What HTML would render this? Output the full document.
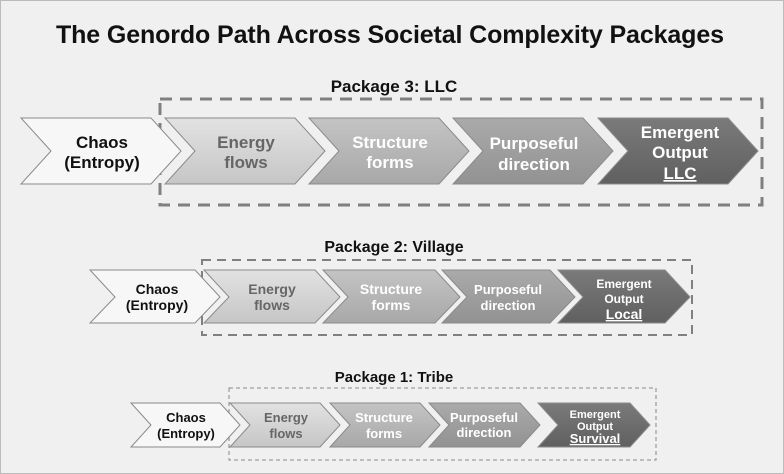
<!DOCTYPE html>
<html><head><style>
body{margin:0;background:#f0f0f0;}
svg{display:block;font-family:"Liberation Sans",sans-serif;font-weight:bold;}
</style></head><body>
<svg width="784" height="474" viewBox="0 0 784 474" xmlns="http://www.w3.org/2000/svg">
<defs>
<linearGradient id="g1" x1="0" y1="0" x2="0" y2="1"><stop offset="0" stop-color="#e2e2e2"/><stop offset="1" stop-color="#c6c6c6"/></linearGradient>
<linearGradient id="g2" x1="0" y1="0" x2="0" y2="1"><stop offset="0" stop-color="#c4c4c4"/><stop offset="1" stop-color="#a8a8a8"/></linearGradient>
<linearGradient id="g3" x1="0" y1="0" x2="0" y2="1"><stop offset="0" stop-color="#aaaaaa"/><stop offset="1" stop-color="#929292"/></linearGradient>
<linearGradient id="g4" x1="0" y1="0" x2="0" y2="1"><stop offset="0" stop-color="#7a7a7a"/><stop offset="1" stop-color="#606060"/></linearGradient>
</defs>
<rect x="0.5" y="0.5" width="783" height="473" fill="#f0f0f0" stroke="#bbb"/>
<text x="390" y="43" font-size="25" text-anchor="middle" textLength="668" fill="#111">The Genordo Path Across Societal Complexity Packages</text>

<!-- Row 3 -->
<text x="394" y="92" font-size="17" text-anchor="middle" fill="#111">Package 3: LLC</text>
<rect x="160" y="99" width="602" height="106" fill="none" stroke="#808080" stroke-width="3" stroke-dasharray="12,8"/>
<g stroke="#8a8a8a" stroke-width="1">
<polygon points="21,118 151,118 181,151 151,184 21,184 51,151" fill="#f7f7f7"/>
<polygon points="165,118 295,118 325,151 295,184 165,184 195,151" fill="url(#g1)"/>
<polygon points="309,118 439,118 469,151 439,184 309,184 339,151" fill="url(#g2)"/>
<polygon points="453,118 583,118 613,151 583,184 453,184 483,151" fill="url(#g3)"/>
<polygon points="598,118 728,118 758,151 728,184 598,184 628,151" fill="url(#g4)"/>
</g>
<g font-size="17" text-anchor="middle">
<text x="102" y="148" fill="#111">Chaos</text><text x="102" y="168" fill="#111">(Entropy)</text>
<text x="246" y="148" fill="#666">Energy</text><text x="246" y="168" fill="#666">flows</text>
<text x="390" y="148" fill="#fff">Structure</text><text x="390" y="168" fill="#fff">forms</text>
<text x="534" y="149" fill="#fff">Purposeful</text><text x="534" y="170" fill="#fff">direction</text>
<text x="680" y="138" fill="#fff">Emergent</text><text x="680" y="158" fill="#fff">Output</text><text x="680" y="179" fill="#fff" text-decoration="underline">LLC</text>
</g>

<!-- Row 2 -->
<text x="394" y="252" font-size="16" text-anchor="middle" fill="#111">Package 2: Village</text>
<rect x="202" y="260" width="490" height="75" fill="none" stroke="#808080" stroke-width="2" stroke-dasharray="9,6"/>
<g stroke="#8a8a8a" stroke-width="1">
<polygon points="90,270 195,270 220,297 195,323 90,323 115,297" fill="#f7f7f7"/>
<polygon points="204,270 315,270 340,297 315,323 204,323 229,297" fill="url(#g1)"/>
<polygon points="323,270 435,270 460,297 435,323 323,323 348,297" fill="url(#g2)"/>
<polygon points="442,270 550,270 575,297 550,323 442,323 467,297" fill="url(#g3)"/>
<polygon points="558,270 665,270 690,297 665,323 558,323 583,297" fill="url(#g4)"/>
</g>
<g font-size="14" text-anchor="middle">
<text x="157" y="294" fill="#111">Chaos</text><text x="157" y="310" fill="#111">(Entropy)</text>
<text x="272" y="294" fill="#666">Energy</text><text x="272" y="310" fill="#666">flows</text>
<text x="391" y="294" fill="#fff">Structure</text><text x="391" y="310" fill="#fff">forms</text>
<text x="508" y="294" fill="#fff" font-size="13">Purposeful</text><text x="508" y="310" fill="#fff" font-size="13">direction</text>
<text x="624" y="288" fill="#fff" font-size="12">Emergent</text><text x="624" y="303" fill="#fff" font-size="12">Output</text><text x="624" y="319" fill="#fff" text-decoration="underline">Local</text>
</g>

<!-- Row 1 -->
<text x="394" y="382" font-size="15" text-anchor="middle" fill="#111">Package 1: Tribe</text>
<rect x="229" y="388" width="427" height="72" fill="none" stroke="#888" stroke-width="1" stroke-dasharray="4,3"/>
<g stroke="#8a8a8a" stroke-width="1">
<polygon points="131,403 220,403 240,425 220,447 131,447 151,425" fill="#f7f7f7"/>
<polygon points="230,403 320,403 340,425 320,447 230,447 250,425" fill="url(#g1)"/>
<polygon points="330,403 420,403 440,425 420,447 330,447 350,425" fill="url(#g2)"/>
<polygon points="429,403 520,403 540,425 520,447 429,447 449,425" fill="url(#g3)"/>
<polygon points="538,403 630,403 650,425 630,447 538,447 558,425" fill="url(#g4)"/>
</g>
<g font-size="13" text-anchor="middle">
<text x="186" y="422" fill="#111">Chaos</text><text x="186" y="438" fill="#111">(Entropy)</text>
<text x="286" y="422" fill="#666">Energy</text><text x="286" y="438" fill="#666">flows</text>
<text x="384" y="422" fill="#fff">Structure</text><text x="384" y="438" fill="#fff">forms</text>
<text x="484" y="422" fill="#fff">Purposeful</text><text x="484" y="437" fill="#fff">direction</text>
<text x="595" y="418" fill="#fff" font-size="11">Emergent</text><text x="595" y="430" fill="#fff" font-size="11">Output</text><text x="595" y="443" fill="#fff" text-decoration="underline">Survival</text>
</g>
</svg>
</body></html>
